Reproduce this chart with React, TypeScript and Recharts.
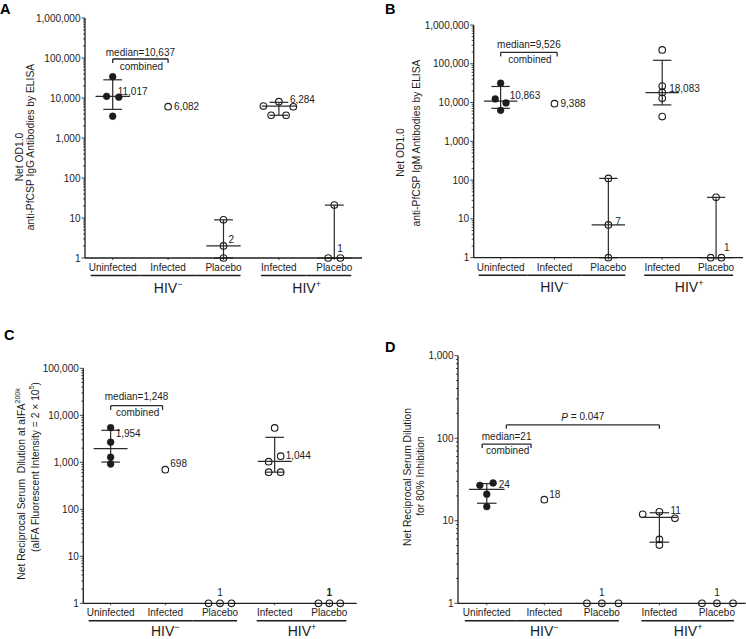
import React from 'react';
import { ScatterChart, Scatter, XAxis, YAxis, ReferenceLine } from 'recharts';

const FONT = '"Liberation Sans", Arial, Helvetica, sans-serif';
const INK = '#1c1c1c';
const LINE = '#2a2a2a';

// x categories (evenly spaced), grouped by HIV status underneath
const CATEGORIES = ['Uninfected', 'Infected', 'Placebo', 'Infected', 'Placebo'];
const CATEGORY_GROUP = [0, 0, 0, 1, 1];
const GROUP_SIGNS = ['\u2212', '+'];
const LABEL_HALF = [22, 18, 17, 18, 17];

// y decades
const TICKS_A = [1, 10, 100, 1000, 10000, 100000, 1000000];
const TICKS_B = [1, 10, 100, 1000, 10000, 100000, 1000000];
const TICKS_C = [1, 10, 100, 1000, 10000, 100000];
const TICKS_D = [1, 10, 100, 1000];

// ---- A: anti-PfCSP IgG
const A_UNINFECTED = [34000, 11000, 10500, 3500];
const A_INFECTED_NEG = [6082];
const A_PLACEBO_NEG = [9, 2, 1];
const A_INFECTED_POS = [8100, 6300, 6050, 3700, 3700];
const A_PLACEBO_POS = [21, 1, 1];
const A_SUMMARY = [[0, 11017, 5200, 28500], [2, 2, 1, 9], [3, 6284, 3700, 7800], [4, 1, 1, 21]]; // [cat, median, low, high]
const A_MEDIANS = [11017, 6082, 2, 6284, 1];
const A_COMBINED = 10637;

// ---- B: anti-PfCSP IgM
const B_UNINFECTED = [31600, 12400, 9800, 6300];
const B_INFECTED_NEG = [9388];
const B_PLACEBO_NEG = [111, 7, 1];
const B_INFECTED_POS = [228000, 26700, 18300, 12900, 4350];
const B_PLACEBO_POS = [36, 1, 1];
const B_SUMMARY = [[0, 10863, 7100, 26000], [2, 7, 1, 111], [3, 18083, 8700, 123000], [4, 1, 1, 36]];
const B_MEDIANS = [10863, 9388, 7, 18083, 1];
const B_COMBINED = 9526;

// ---- C: aIFA dilution
const C_UNINFECTED = [5450, 2680, 1280, 920];
const C_INFECTED_NEG = [698];
const C_PLACEBO_NEG = [1, 1, 1];
const C_INFECTED_POS = [5400, 1350, 1030, 617, 617];
const C_PLACEBO_POS = [1, 1, 1];
const C_SUMMARY = [[0, 1954, 1010, 4800], [3, 1044, 617, 3400]];
const C_MEDIANS = [1954, 698, 1, 1044, 1];
const C_COMBINED = 1248;

// ---- D: 80% inhibition
const D_UNINFECTED = [26.9, 28.7, 21, 14.8];
const D_INFECTED_NEG = [18];
const D_PLACEBO_NEG = [1, 1, 1];
const D_INFECTED_POS = [12.0, 12.85, 10.7, 5.95, 5.08];
const D_PLACEBO_POS = [1, 1, 1];
const D_SUMMARY = [[0, 24, 16.3, 28.2], [3, 11, 5.5, 12.5]];
const D_MEDIANS = [24, 18, 1, 11, 1];
const D_COMBINED = 21;
const D_P_VALUE = '0.047';

// horizontal spread of overlapping dots (in category units)
const JIT = {
  aUn: [0, -0.11, 0.11, 0], aInfP: [0, -0.28, 0.26, -0.14, 0.13], aPlP: [0, -0.11, 0.11],
  bUn: [0, -0.1, 0.1, 0], bPlP: [0, -0.1, 0.1],
  cPlN: [-0.21, 0, 0.21], cInfP: [0, 0.11, -0.11, -0.11, 0.11], cPlP: [-0.2, 0, 0.2],
  dUn: [-0.12, 0.11, 0, 0], dPlN: [-0.26, 0, 0.29], dInfP: [-0.29, 0, 0.27, 0, 0], dPlP: [-0.26, 0, 0.28],
};

const spread = (cat: number, values: number[], jitter: number[] = []) =>
  values.map((y, i) => ({ x: cat + (jitter[i] ?? 0), y }));

// median label offsets [dx, dy, anchor, bold]
const fmt = (v: number) => v.toLocaleString('en-US');
const medianLabels = (vals: number[], layout: any[]) =>
  vals.map((v, i) => ({
    x: i, y: v, text: fmt(v),
    dx: layout[i][0], dy: layout[i][1], anchor: layout[i][2] || 'start', bold: !!layout[i][3],
  }));

const bracketText = (b: any) => {
  const mid = (b.from + b.to) / 2;
  const out: any[] = [{ x: mid, y: b.y, text: b.top, dx: 0, dy: b.topDy, anchor: 'middle', italic: b.italic }];
  if (b.bottom) out.push({ x: mid, y: b.y, text: b.bottom, dx: 1, dy: b.bottomDy, anchor: 'middle' });
  return out;
};

const PANELS = [
  {
    letter: 'A', left: 0, top: 0, width: 373, height: 320, letterPos: [0, 14],
    plot: { x0: 85, y0: 18, x1: 362, y1: 258 }, ticks: TICKS_A, groupDy: 34.5,
    filled: spread(0, A_UNINFECTED, JIT.aUn),
    open: [...spread(1, A_INFECTED_NEG), ...spread(2, A_PLACEBO_NEG), ...spread(3, A_INFECTED_POS, JIT.aInfP), ...spread(4, A_PLACEBO_POS, JIT.aPlP)],
    summary: A_SUMMARY,
    labels: medianLabels(A_MEDIANS, [[5, -5], [6, 0], [5, -6], [11, -7], [3, -10]]),
    brackets: [{ from: 0, to: 1, y: 94400, tickY: 75000, top: `median=${fmt(A_COMBINED)}`, bottom: 'combined', topDy: -7, bottomDy: 7 }],
    title: ['Net OD1.0', 'anti-PfCSP IgG Antibodies by ELISA'], titlePos: [[19, 157], [30, 147]],
  },
  {
    letter: 'B', left: 373, top: 0, width: 373, height: 320, letterPos: [12, 14],
    plot: { x0: 100.7, y0: 25, x1: 370, y1: 257.7 }, ticks: TICKS_B, groupDy: 34.5,
    filled: spread(0, B_UNINFECTED, JIT.bUn),
    open: [...spread(1, B_INFECTED_NEG), ...spread(2, B_PLACEBO_NEG), ...spread(3, B_INFECTED_POS), ...spread(4, B_PLACEBO_POS, JIT.bPlP)],
    summary: B_SUMMARY,
    labels: medianLabels(B_MEDIANS, [[9, -6], [6, 0], [7, -3], [7, -4], [8, -10]]),
    brackets: [{ from: 0, to: 1.05, y: 196000, tickY: 155000, top: `median=${fmt(B_COMBINED)}`, bottom: 'combined', topDy: -8, bottomDy: 7 }],
    title: ['Net OD1.0', 'anti-PfCSP IgM Antibodies by ELISA'], titlePos: [[27.5, 152.5], [43, 143]],
  },
  {
    letter: 'C', left: 0, top: 320, width: 373, height: 319, letterPos: [4, 20],
    plot: { x0: 83.3, y0: 48.3, x1: 356.7, y1: 283.3 }, ticks: TICKS_C, groupDy: 32.5,
    filled: spread(0, C_UNINFECTED),
    open: [...spread(1, C_INFECTED_NEG), ...spread(2, C_PLACEBO_NEG, JIT.cPlN), ...spread(3, C_INFECTED_POS, JIT.cInfP), ...spread(4, C_PLACEBO_POS, JIT.cPlP)],
    summary: C_SUMMARY,
    labels: medianLabels(C_MEDIANS, [[5, -15], [5, -6], [0, -11, 'middle'], [11, -6], [0, -11, 'middle', true]]),
    brackets: [{ from: 0, to: 0.95, y: 16000, tickY: 13000, top: `median=${fmt(C_COMBINED)}`, bottom: 'combined', topDy: -9, bottomDy: 7 }],
    title: ['Net Reciprocal Serum  Dilution at aIFA', '(aIFA Fluorescent Intensity = 2 \u00d7 10'], titlePos: [[21, 164], [35, 147]],
  },
  {
    letter: 'D', left: 373, top: 320, width: 373, height: 319, letterPos: [12, 32],
    plot: { x0: 85, y0: 35.7, x1: 372.7, y1: 283.3 }, ticks: TICKS_D, groupDy: 32.5,
    filled: spread(0, D_UNINFECTED, JIT.dUn),
    open: [...spread(1, D_INFECTED_NEG), ...spread(2, D_PLACEBO_NEG, JIT.dPlN), ...spread(3, D_INFECTED_POS, JIT.dInfP), ...spread(4, D_PLACEBO_POS, JIT.dPlP)],
    summary: D_SUMMARY,
    labels: medianLabels(D_MEDIANS, [[12, -5], [5, -5], [0, -11, 'middle'], [11, -7], [0, -11, 'middle']]),
    brackets: [
      { from: -0.08, to: 0.77, y: 84.9, tickY: 75.9, top: `median=${fmt(D_COMBINED)}`, bottom: 'combined', topDy: -8, bottomDy: 6 },
      { from: 0.34, to: 3, y: 145, tickY: 130, top: `P = ${D_P_VALUE}`, topDy: -8, italic: true },
    ],
    title: ['Net Reciprocal Serum Dilution', 'for 80% Inhibition'], titlePos: [[34, 157], [47, 156]],
  },
];

const renderText = (props: any) => {
  const { cx, cy, payload } = props;
  if (cx == null || cy == null) return <g />;
  return (
    <text x={cx + payload.dx} y={cy + payload.dy} textAnchor={payload.anchor} dominantBaseline="central"
      fontSize={10} fontWeight={payload.bold ? 700 : 400} fill={INK} stroke="none" fontFamily={FONT}>
      {payload.italic ? (<><tspan fontStyle="italic">{payload.text[0]}</tspan>{payload.text.slice(1)}</>) : payload.text}
    </text>
  );
};

const seg = (key: string, x1: number, y1: number, x2: number, y2: number, w = 1.2) => (
  <ReferenceLine key={key} segment={[{ x: x1, y: y1 }, { x: x2, y: y2 }]} stroke={LINE} strokeWidth={w} ifOverflow="visible" />
);

function Panel({ p }: { p: any }) {
  const { plot, width, height } = p;
  const step = (plot.x1 - plot.x0) / 5;
  const allTicks = p.ticks
    .slice(0, -1)
    .flatMap((t: number) => [1, 2, 3, 4, 5, 6, 7, 8, 9].map((m) => m * t))
    .concat(p.ticks[p.ticks.length - 1]);
  const majors = new Set(p.ticks);

  const yTick = (props: any) => {
    const v = props.payload.value;
    const y = props.y;
    const major = majors.has(v);
    return (
      <g>
        <line x1={plot.x0 - (major ? 3.5 : 2)} x2={plot.x0} y1={y} y2={y} stroke={INK} strokeWidth={0.8} />
        {major && (
          <text x={plot.x0 - 4.5} y={y} textAnchor="end" dominantBaseline="central" fontSize={10} fill={INK} fontFamily={FONT}>
            {fmt(v)}
          </text>
        )}
      </g>
    );
  };

  const xTick = (props: any) => {
    const i = Math.round(props.payload.value);
    const x = props.x;
    const ay = plot.y1;
    const g = CATEGORY_GROUP[i];
    const first = CATEGORY_GROUP[i - 1] !== g;
    const last = CATEGORY_GROUP[i + 1] !== g;
    const l = first ? x - LABEL_HALF[i] : x - step / 2;
    const r = last ? x + LABEL_HALF[i] : x + step / 2;
    const members = CATEGORY_GROUP.map((c, k) => (c === g ? k : -1)).filter((k) => k >= 0);
    const showGroup = members[Math.floor((members.length - 1) / 2)] === i;
    const gx = members.length % 2 === 1 ? x : x + step / 2;
    return (
      <g>
        <line x1={x} x2={x} y1={ay} y2={ay + 2} stroke={INK} strokeWidth={0.8} />
        <text x={x} y={ay + 9.5} textAnchor="middle" dominantBaseline="central" fontSize={10} fill={INK} fontFamily={FONT}>
          {CATEGORIES[i]}
        </text>
        <line x1={l} x2={r} y1={ay + 17.5} y2={ay + 17.5} stroke={INK} strokeWidth={1.4} />
        {showGroup && (
          <text x={gx} y={ay + p.groupDy} textAnchor="middle" fontSize={14} fill={INK} fontFamily={FONT}>
            HIV<tspan dy={-6} fontSize={9}>{GROUP_SIGNS[g]}</tspan>
          </text>
        )}
      </g>
    );
  };

  const summaryLines = p.summary.flatMap(([c, med, lo, hi]: number[], k: number) => [
    seg(`v${k}`, c, lo, c, hi),
    seg(`m${k}`, c - 0.31, med, c + 0.31, med),
    seg(`h${k}`, c - 0.17, hi, c + 0.17, hi),
    seg(`l${k}`, c - 0.17, lo, c + 0.17, lo),
  ]);
  const bracketLines = p.brackets.flatMap((b: any, k: number) => [
    seg(`bh${k}`, b.from, b.y, b.to, b.y, 1.3),
    seg(`bl${k}`, b.from, b.y, b.from, b.tickY, 1.3),
    seg(`br${k}`, b.to, b.y, b.to, b.tickY, 1.3),
  ]);
  const texts = [...p.labels, ...p.brackets.flatMap(bracketText)];

  return (
    <div style={{ position: 'absolute', left: p.left, top: p.top, width, height }}>
      <ScatterChart width={width} height={height} margin={{ top: plot.y0, right: width - plot.x1, bottom: 0, left: 0 }}>
        <XAxis type="number" dataKey="x" domain={[-0.5, 4.5]} ticks={[0, 1, 2, 3, 4]} interval={0}
          tick={xTick} tickLine={false} height={height - plot.y1} axisLine={{ stroke: INK, strokeWidth: 1.3 }} />
        <YAxis type="number" dataKey="y" scale="log" domain={[p.ticks[0], p.ticks[p.ticks.length - 1]]}
          ticks={allTicks} interval={0} tick={yTick} tickLine={false} tickSize={0} tickMargin={0}
          width={plot.x0} axisLine={{ stroke: INK, strokeWidth: 1.3 }} />
        {summaryLines}
        {bracketLines}
        <Scatter data={p.open} isAnimationActive={false}
          shape={(s: any) => <circle cx={s.cx} cy={s.cy} r={3.3} fill="none" stroke={INK} strokeWidth={1.1} />} />
        <Scatter data={p.filled} isAnimationActive={false}
          shape={(s: any) => <circle cx={s.cx} cy={s.cy} r={3.4} fill={INK} stroke={INK} strokeWidth={0.5} />} />
        <Scatter data={texts} isAnimationActive={false} shape={renderText} />
      </ScatterChart>
      <svg width={width} height={height} style={{ position: 'absolute', left: 0, top: 0, pointerEvents: 'none' }}>
        <text x={p.letterPos[0]} y={p.letterPos[1]} fontSize={14.5} fontWeight={700} fill="#000" fontFamily={FONT}>
          {p.letter}
        </text>
        {p.title.map((t: string, k: number) => (
          <text key={k} transform={`translate(${p.titlePos[k][0]},${p.titlePos[k][1]}) rotate(-90)`}
            textAnchor="middle" dominantBaseline="central" fontSize={10.3} fill={INK} fontFamily={FONT}
            style={{ whiteSpace: 'pre' }}>
            {t}
            {p.letter === 'C' && k === 0 && <tspan dy={-4} fontSize={7}>200k</tspan>}
            {p.letter === 'C' && k === 1 && (<><tspan dy={-4} fontSize={7}>5</tspan><tspan dy={4}>)</tspan></>)}
          </text>
        ))}
      </svg>
    </div>
  );
}

export default function App() {
  return (
    <div style={{ position: 'absolute', left: 0, top: 0, width: 746, height: 639, background: '#fff', fontFamily: FONT }}>
      {PANELS.map((p) => (
        <Panel key={p.letter} p={p} />
      ))}
    </div>
  );
}
